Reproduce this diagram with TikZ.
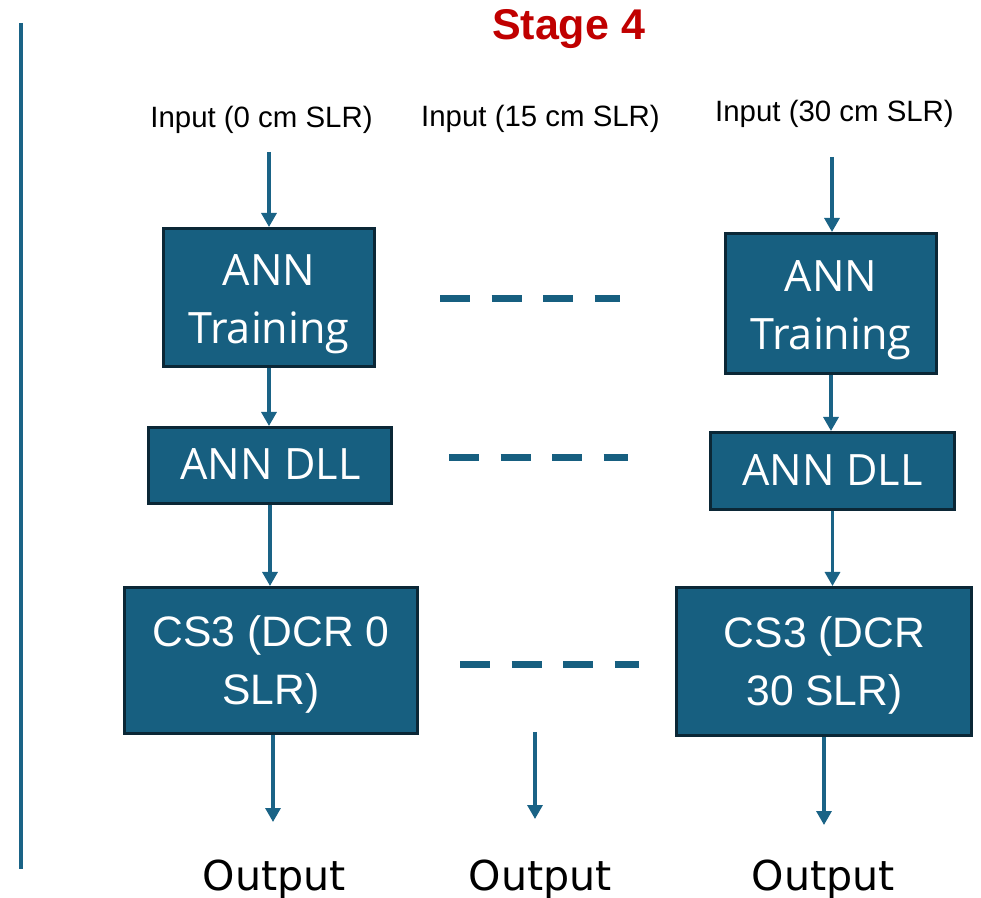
\documentclass[tikz,border=0pt]{standalone}
\usepackage{fontspec}
\setmainfont{Liberation Sans}
\newfontfamily\boxfont{Open Sans}
\newfontfamily\outfont{DejaVu Sans}
\usetikzlibrary{arrows.meta,calc}
\definecolor{boxfill}{HTML}{175F80}
\definecolor{boxline}{HTML}{0B2736}
\definecolor{flow}{HTML}{1A6386}
\definecolor{stagered}{HTML}{C00000}

\begin{document}
\begin{tikzpicture}[x=0.5pt,y=-0.5pt,
  block/.style={draw=boxline, fill=boxfill, line width=1.7pt, inner sep=0pt},
  blocktext/.style={text=white, align=center, inner sep=0pt, font=\boxfont\fontsize{21.6}{29}\selectfont},
  cstext/.style={text=white, align=center, inner sep=0pt, font=\fontsize{21.3}{29}\selectfont},
  inlabel/.style={anchor=base, inner sep=0pt, font=\fontsize{14.7}{17}\selectfont},
  outlabel/.style={anchor=base, inner sep=0pt, font=\outfont\fontsize{20.6}{24}\selectfont},
  flowarrow/.style={draw=flow, line width=1.6pt, -{Triangle[width=7.5pt,length=7pt]}},
  linkdash/.style={draw=boxfill, line width=3.5pt, dash pattern=on 15pt off 10.75pt}
]
\useasboundingbox (0,0) rectangle (981,898);

% side rule
\draw[flow, line width=2pt] (20.5,23) -- (20.5,869);

% title
\node[anchor=base, inner sep=0pt, text=stagered, font=\bfseries\fontsize{21.5}{26}\selectfont] (title) at (568.5,40) {Stage 4};

% input labels
\node[inlabel] (in1) at (261.5,128) {Input (0 cm SLR)};
\node[inlabel] (in2) at (540.5,127) {Input (15 cm SLR)};
\node[inlabel] (in3) at (834.5,122) {Input (30 cm SLR)};

% left chain
\node[block, minimum width=105.3pt, minimum height=68.8pt] (L1) at (269,297.5) {};
\node[block, minimum width=121.3pt, minimum height=37.8pt] (L2) at (270,465.5) {};
\node[block, minimum width=146.3pt, minimum height=72.8pt] (L3) at (271,660.5) {};
\node[blocktext] (L1t) at (269,304) {ANN\\Training};
\node[blocktext] (L2t) at (270.5,464) {ANN DLL};
\node[cstext] (L3t) at (271,664) {CS3 (DCR 0\\SLR)};

% right chain
\node[block, minimum width=105.3pt, minimum height=69.8pt] (R1) at (831,303.5) {};
\node[block, minimum width=121.8pt, minimum height=38.3pt] (R2) at (832.5,471) {};
\node[block, minimum width=147.3pt, minimum height=73.8pt] (R3) at (824,661.5) {};
\node[blocktext] (R1t) at (831,310) {ANN\\Training};
\node[blocktext] (R2t) at (832.5,470.5) {ANN DLL};
\node[cstext] (R3t) at (824.5,665) {CS3 (DCR\\30 SLR)};

% free ends of the flow arrows
\coordinate (inL) at (269,152);
\coordinate (inR) at (832,157);
\coordinate (outLtip) at (273,822);
\coordinate (outRtip) at (824,825);
\coordinate (midTop) at (535,732);
\coordinate (midTip) at (535,819);

\draw[flowarrow] (inL) -- (inL |- L1.north);
\draw[flowarrow] (L1.south) -- (L1.south |- L2.north);
\draw[flowarrow] (L2.south) -- (L2.south |- L3.north);
\draw[flowarrow] (outLtip |- L3.south) -- (outLtip);

\draw[flowarrow] (inR) -- (inR |- R1.north);
\draw[flowarrow] (R1.south) -- (R1.south |- R2.north);
\draw[flowarrow] (R2.south) -- (R2.south |- R3.north);
\draw[flowarrow] (R3.south) -- (outRtip);

\draw[flowarrow] (midTop) -- (midTip);

% dashed links between the two chains
\coordinate (d1a) at (440,299);  \coordinate (d1b) at (620,299);
\coordinate (d2a) at (449,458);  \coordinate (d2b) at (628,458);
\coordinate (d3a) at (460,665);  \coordinate (d3b) at (639,665);
\draw[linkdash] (d1a) -- (d1b);
\draw[linkdash] (d2a) -- (d2b);
\draw[linkdash] (d3a) -- (d3b);

% outputs
\node[outlabel] (o1) at (274.5,890) {Output};
\node[outlabel] (o2) at (540.5,890) {Output};
\node[outlabel] (o3) at (823.5,890) {Output};
\end{tikzpicture}
\end{document}
